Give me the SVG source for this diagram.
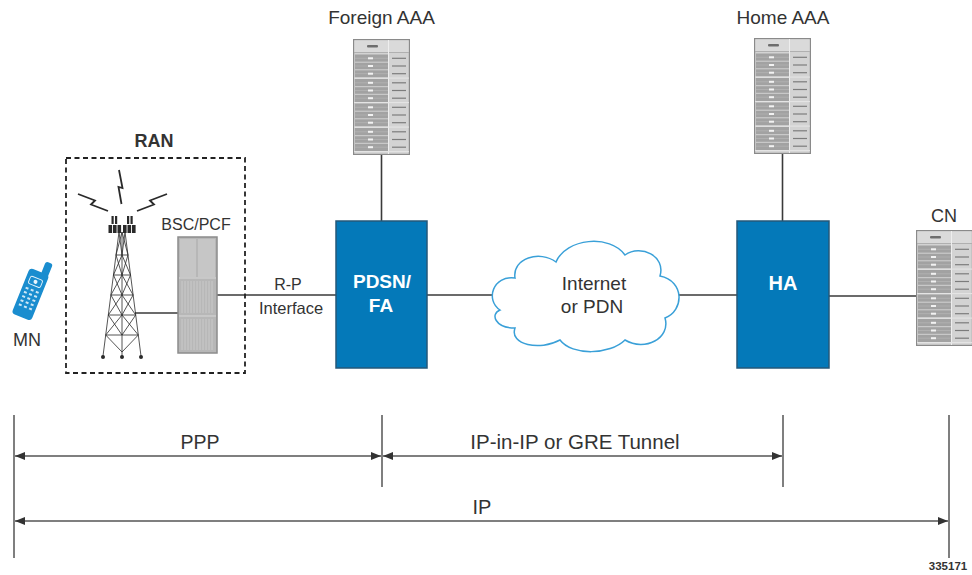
<svg xmlns="http://www.w3.org/2000/svg" xmlns:xlink="http://www.w3.org/1999/xlink" width="972" height="575" viewBox="0 0 972 575">
<style>
  .t { font-family: "Liberation Sans", Arial, sans-serif; fill: #333333; }
  .tb { font-family: "Liberation Sans", Arial, sans-serif; font-weight: bold; fill: #333333; }
  .tw { font-family: "Liberation Sans", Arial, sans-serif; font-weight: bold; fill: #ffffff; }
  .ln { stroke: #3a3a3a; stroke-width: 1.6; fill: none; }
  .dim { stroke: #555555; stroke-width: 1.5; fill: none; }
  .arr { stroke: #555555; stroke-width: 1.5; fill: none; marker-start: url(#ah); marker-end: url(#ah); }
  .box { fill: #0479b9; stroke: #24587a; stroke-width: 1.5; }
  .tw1 { stroke: #2a2a2a; stroke-width: 0.8; fill: none; }
</style>
<defs>
  <marker id="ah" viewBox="0 0 10 8" refX="10" refY="4" markerWidth="10" markerHeight="8" markerUnits="userSpaceOnUse" orient="auto-start-reverse">
    <path d="M0,0 L10,4 L0,8 z" fill="#333333"/>
  </marker>
  <g id="rg">
    <rect x="2" y="0" width="33" height="23" fill="#a2a2a2"/>
    <line x1="2" y1="3.8" x2="35" y2="3.8" stroke="#bababa" stroke-width="0.6"/>
    <line x1="2" y1="11.5" x2="35" y2="11.5" stroke="#bababa" stroke-width="0.6"/>
    <line x1="2" y1="19.2" x2="35" y2="19.2" stroke="#bababa" stroke-width="0.6"/>
    <line x1="2" y1="7.7" x2="35" y2="7.7" stroke="#d2d2d2" stroke-width="1"/>
    <line x1="2" y1="15.3" x2="35" y2="15.3" stroke="#d2d2d2" stroke-width="1"/>
    <rect x="15" y="2.8" width="5" height="2" fill="#f2f2f2"/>
    <rect x="15" y="10.5" width="5" height="2" fill="#f2f2f2"/>
    <rect x="15" y="18.2" width="5" height="2" fill="#f2f2f2"/>
    <line x1="39" y1="3.8" x2="53" y2="3.8" stroke="#7c7c7c" stroke-width="1.2"/>
    <line x1="39" y1="11.5" x2="53" y2="11.5" stroke="#7c7c7c" stroke-width="1.2"/>
    <line x1="39" y1="19.2" x2="53" y2="19.2" stroke="#7c7c7c" stroke-width="1.2"/>
    <line x1="1" y1="23.6" x2="56" y2="23.6" stroke="#e6e6e6" stroke-width="1"/>
  </g>
  <g id="rack">
    <rect x="0.6" y="0.6" width="55.8" height="114.8" fill="#d3d3d3" stroke="#8a8a8a" stroke-width="1.2"/>
    <rect x="1.5" y="1.5" width="54" height="12" fill="#dadada"/>
    <line x1="1" y1="13.5" x2="56" y2="13.5" stroke="#b0b0b0" stroke-width="1"/>
    <rect x="14" y="6" width="11" height="2.6" rx="1" fill="#6e6e6e"/>
    <line x1="35.5" y1="1" x2="35.5" y2="115" stroke="#eeeeee" stroke-width="1"/>
    <use xlink:href="#rg" y="15.5"/>
    <use xlink:href="#rg" y="40"/>
    <use xlink:href="#rg" y="64.5"/>
    <use xlink:href="#rg" y="89"/>
  </g>
</defs>

<rect width="972" height="575" fill="#ffffff"/>

<!-- connectors -->
<g id="connectors">
  <line class="ln" x1="381.5" y1="155" x2="381.5" y2="221"/>
  <line class="ln" x1="782.5" y1="154" x2="782.5" y2="221"/>
  <line class="ln" x1="217" y1="295" x2="336" y2="295"/>
  <line class="ln" x1="135" y1="313" x2="178" y2="313"/>
  <line class="ln" x1="427" y1="295" x2="497" y2="295"/>
  <line class="ln" x1="679" y1="295" x2="737" y2="295"/>
  <line class="ln" x1="829" y1="296" x2="916" y2="296"/>
</g>

<!-- RAN -->
<g id="ran">
  <rect x="66" y="158" width="179" height="215" fill="none" stroke="#222222" stroke-width="1.8" stroke-dasharray="5 3.5"/>
  <text class="tb" x="154" y="147" font-size="18" text-anchor="middle">RAN</text>
</g>

<!-- MN -->
<g id="mn">
  <g transform="translate(31,293) rotate(22)">
    <rect x="2" y="-35" width="7.5" height="15" rx="2.5" fill="#1a8dcf"/>
    <rect x="-10.5" y="-23" width="21" height="49" rx="3.5" fill="#1a8dcf"/>
    <rect x="-6.5" y="-16" width="13" height="8" rx="2" fill="none" stroke="#e8f4fb" stroke-width="0.9"/>
    <circle cx="0" cy="-12" r="2" fill="#e8f4fb"/>
    <g fill="#cfe8f6">
      <rect x="-7" y="-4" width="3" height="2"/><rect x="-1.5" y="-4" width="3" height="2"/><rect x="4" y="-4" width="3" height="2"/>
      <rect x="-7" y="0.5" width="3" height="2"/><rect x="-1.5" y="0.5" width="3" height="2"/><rect x="4" y="0.5" width="3" height="2"/>
      <rect x="-7" y="5" width="3" height="2"/><rect x="-1.5" y="5" width="3" height="2"/><rect x="4" y="5" width="3" height="2"/>
      <rect x="-7" y="9.5" width="3" height="2"/><rect x="-1.5" y="9.5" width="3" height="2"/><rect x="4" y="9.5" width="3" height="2"/>
      <rect x="-7" y="14" width="3" height="2"/><rect x="-1.5" y="14" width="3" height="2"/><rect x="4" y="14" width="3" height="2"/>
    </g>
  </g>
  <text class="t" x="27" y="346" font-size="18" text-anchor="middle">MN</text>
</g>

<!-- Tower -->
<g id="tower">
  <g fill="none" stroke="#2a2a2a" stroke-width="1.8" stroke-linejoin="miter">
    <polyline points="119,170 122.5,188 118.5,187 121.5,204"/>
    <polyline points="78,194 95,200.5 91,204.5 108,211"/>
    <polyline points="167,194 150,200.5 154,204.5 137,211"/>
  </g>
  <g fill="#2a2a2a">
    <rect x="111.5" y="216" width="2.2" height="8"/><rect x="115" y="216" width="2.2" height="8"/>
    <rect x="127" y="216" width="2.2" height="8"/><rect x="130.5" y="216" width="2.2" height="8"/>
    <rect x="108.5" y="225" width="3.6" height="8"/><rect x="113" y="225" width="3.6" height="8"/><rect x="117.5" y="225" width="3.6" height="8"/>
    <rect x="123" y="225" width="3.6" height="8"/><rect x="127.5" y="225" width="3.6" height="8"/><rect x="132" y="225" width="3.6" height="8"/>
  </g>
  <g class="tw1">
    <line x1="119" y1="232" x2="103" y2="356"/>
    <line x1="125" y1="232" x2="141" y2="356"/>
    <line x1="122" y1="232" x2="122" y2="356"/>
    <polyline points="116,255 128,255"/>
    <polyline points="113.5,275 130.5,275"/>
    <polyline points="110.9,295 133.1,295"/>
    <polyline points="108.3,315 135.7,315"/>
    <polyline points="105.7,335 138.3,335"/>
    <path d="M119,232 L122,255 M122,232 L116,255 M125,232 L122,255 M122,232 L128,255"/>
    <path d="M116,255 L122,275 M122,255 L113.5,275 M128,255 L122,275 M122,255 L130.5,275"/>
    <path d="M113.5,275 L122,295 M122,275 L110.9,295 M130.5,275 L122,295 M122,275 L133.1,295"/>
    <path d="M110.9,295 L122,315 M122,295 L108.3,315 M133.1,295 L122,315 M122,295 L135.7,315"/>
    <path d="M108.3,315 L122,335 M122,315 L105.7,335 M135.7,315 L122,335 M122,315 L138.3,335"/>
    <path d="M105.7,335 L122,352 M138.3,335 L122,352"/>
  </g>
  <g fill="#2a2a2a">
    <circle cx="103" cy="357" r="2"/><circle cx="122" cy="357" r="2"/><circle cx="141" cy="357" r="2"/>
  </g>
</g>

<!-- BSC/PCF -->
<g id="bsc">
  <rect x="178" y="237" width="39" height="116" fill="#b7b7b7" stroke="#8c8c8c" stroke-width="1.5"/>
  <rect x="180" y="239" width="16" height="38" fill="#c6c6c6"/>
  <rect x="198" y="239" width="17" height="38" fill="#c6c6c6"/>
  <line x1="179" y1="278" x2="216" y2="278" stroke="#d8d8d8" stroke-width="1"/>
  <line x1="179" y1="316" x2="216" y2="316" stroke="#d8d8d8" stroke-width="1"/>
  <g stroke="#cfcfcf" stroke-width="0.8">
    <path d="M182,281 V313 M185,281 V313 M188,281 V313 M191,281 V313 M194,281 V313 M197,281 V313 M200,281 V313 M203,281 V313 M206,281 V313 M209,281 V313 M212,281 V313"/>
    <path d="M182,319 V350 M185,319 V350 M188,319 V350 M191,319 V350 M194,319 V350 M197,319 V350 M200,319 V350 M203,319 V350 M206,319 V350 M209,319 V350 M212,319 V350"/>
  </g>
  <text class="t" x="196" y="230" font-size="16" text-anchor="middle">BSC/PCF</text>
</g>

<!-- R-P label -->
<g id="rp-label">
  <text class="t" x="288" y="290" font-size="16" text-anchor="middle">R-P</text>
  <text class="t" x="291" y="314" font-size="16.5" text-anchor="middle">Interface</text>
</g>

<!-- Foreign AAA -->
<g id="foreign-aaa">
  <use xlink:href="#rack" x="353" y="39"/>
  <text class="t" x="381.5" y="24" font-size="19" text-anchor="middle">Foreign AAA</text>
</g>

<!-- PDSN/FA -->
<g id="pdsn">
  <rect class="box" x="336" y="221" width="91" height="147"/>
  <text class="tw" x="382" y="288" font-size="19" text-anchor="middle">PDSN/</text>
  <text class="tw" x="381" y="312" font-size="19" text-anchor="middle">FA</text>
</g>

<!-- Cloud -->
<g id="cloud">
  <path d="M500,310 C485,300 493,275 515,278 C512,258 540,250 556,262 C566,238 610,234 625,255 C641,244 666,256 660,276 C685,281 684,311 665,318 C671,338 645,352 625,340 C610,355 572,356 560,340 C540,351 509,345 515,328 C495,328 490,314 500,310 Z" fill="#ffffff" stroke="#3aa0d8" stroke-width="1.5"/>
  <text class="t" x="594" y="290" font-size="19" text-anchor="middle">Internet</text>
  <text class="t" x="592" y="313" font-size="19" text-anchor="middle">or PDN</text>
</g>

<!-- Home AAA -->
<g id="home-aaa">
  <use xlink:href="#rack" x="754" y="38"/>
  <text class="t" x="783" y="24" font-size="19" text-anchor="middle">Home AAA</text>
</g>

<!-- HA -->
<g id="ha">
  <rect class="box" x="737" y="221" width="92" height="147"/>
  <text class="tw" x="783" y="290" font-size="20" text-anchor="middle">HA</text>
</g>

<!-- CN -->
<g id="cn">
  <use xlink:href="#rack" x="916" y="230"/>
  <text class="t" x="944" y="222" font-size="18" text-anchor="middle">CN</text>
</g>

<!-- Bottom dimension arrows -->
<g id="ranges">
  <line class="dim" x1="14" y1="415" x2="14" y2="558"/>
  <line class="dim" x1="382" y1="415" x2="382" y2="487"/>
  <line class="dim" x1="783" y1="415" x2="783" y2="487"/>
  <line class="dim" x1="949" y1="415" x2="949" y2="558"/>
  <line class="arr" x1="15" y1="456" x2="381" y2="456"/>
  <line class="arr" x1="383" y1="456" x2="782" y2="456"/>
  <line class="arr" x1="15" y1="521" x2="948" y2="521"/>
  <text class="t" x="200" y="449" font-size="19.5" text-anchor="middle">PPP</text>
  <text class="t" x="575" y="449" font-size="20.5" text-anchor="middle">IP-in-IP or GRE Tunnel</text>
  <text class="t" x="482" y="514" font-size="20" text-anchor="middle">IP</text>
  <text class="tb" x="948" y="570" font-size="11.5" text-anchor="middle">335171</text>
</g>
</svg>
